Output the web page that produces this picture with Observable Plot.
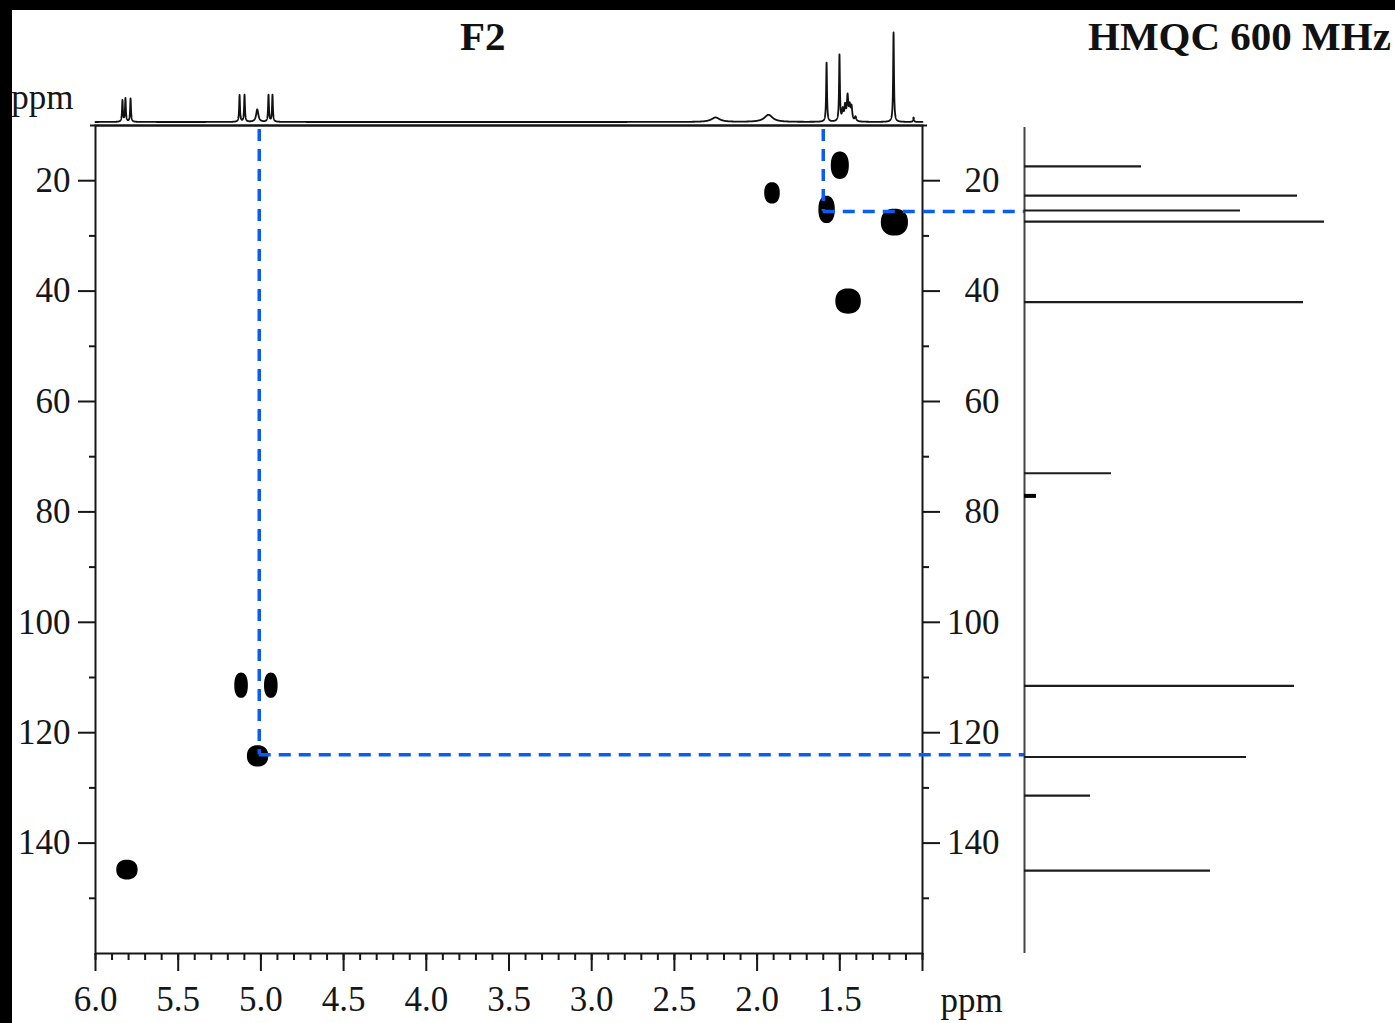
<!DOCTYPE html>
<html><head><meta charset="utf-8">
<script src="https://cdn.jsdelivr.net/npm/d3@7"></script>
<script src="https://cdn.jsdelivr.net/npm/@observablehq/plot@0.6"></script>
<style>
html,body{margin:0;padding:0;background:#000;width:1395px;height:1023px;overflow:hidden}
#wrap{position:absolute;left:12px;top:10px;width:1383px;height:1013px;background:#fff;overflow:hidden}
#wrap svg{position:absolute;left:0;top:0}
.title{position:absolute;font-family:"Liberation Serif",serif;font-weight:bold;font-size:41px;line-height:41px;color:#111;white-space:nowrap}
</style></head><body>
<div id="wrap">
  <div class="title" id="t1" style="left:448px;top:6px;">F2</div>
  <div class="title" id="t2" style="left:1076px;top:6px;">HMQC 600 MHz</div>
</div>
<script>
// ---------------- data ----------------
// 2D HMQC cross peaks (F2 = 1H ppm, F1 = 13C ppm), with line widths in ppm
const crossF2 = [1.50, 1.91, 1.58, 1.17, 1.45, 5.12, 4.94, 5.02, 5.81];
const crossF1 = [17.2, 22.2, 25.2, 27.5, 41.8, 111.4, 111.4, 124.2, 144.8];
const crossWidthF2 = [0.10, 0.085, 0.09, 0.155, 0.145, 0.073, 0.073, 0.12, 0.12];
const crossWidthF1 = [4.7, 3.6, 4.7, 4.6, 4.3, 4.3, 4.3, 3.6, 3.3];

// 13C projection (F1)
const carbonShift = [17.4, 22.7, 25.4, 27.4, 42.0, 73.0, 111.5, 124.4, 131.4, 145.0];
const carbonIntensity = [39, 91, 72, 100, 93, 29, 90, 74, 22, 62];
const solventShift = [77.1];
const solventIntensity = [4];

// 1H spectrum (F2): peak positions, heights, half-widths
const protonShift = [5.837, 5.819, 5.788, 5.129, 5.099, 5.022, 4.954, 4.930, 2.251, 1.931, 1.580, 1.502, 1.482, 1.468, 1.453, 1.440, 1.429, 1.405, 1.175, 1.054];
const protonHeight = [24, 26, 26, 30, 30, 14, 30, 30, 5, 8, 66, 74, 12, 16, 27, 15, 15, 5, 100, 5];
const protonHalfWidth = [0.003, 0.003, 0.003, 0.003, 0.003, 0.008, 0.003, 0.003, 0.03, 0.03, 0.003, 0.003, 0.005, 0.005, 0.005, 0.005, 0.005, 0.005, 0.003, 0.003];

// guide lines (blue dashed)
const guideF2 = [5.01, 1.60];
const guideF1 = [124.0, 25.6];

// axes
const F2_DOMAIN = [6.0, 1.0];
const F1_DOMAIN = [10, 160];
const xMajorTicks = [6.0, 5.5, 5.0, 4.5, 4.0, 3.5, 3.0, 2.5, 2.0, 1.5, 1.0];
const xTickLabels = ["6.0", "5.5", "5.0", "4.5", "4.0", "3.5", "3.0", "2.5", "2.0", "1.5", ""];
const xMinorTicks = d3.range(10, 61).map(i => i / 10);
const yMajorTicks = [20, 40, 60, 80, 100, 120, 140];
const yTickLabels = ["20", "40", "60", "80", "100", "120", "140"];
const yMinorTicks = [30, 50, 70, 90, 110, 130, 150];

// ---------------- layout ----------------
const W = 1383, H = 1013;
const ML = 83, MR = W - 910, MT = 115, MB = H - 943;
const FONT = "'Liberation Serif', 'Times New Roman', serif";
const INK = "#161616";
const BLUE = "#0a5cf6";

// cross-peak outlines
const blobRows = [];
crossF2.forEach((cx, i) => {
  const rx = crossWidthF2[i] / 2, ry = crossWidthF1[i] / 2, n = 2.3;
  for (let k = 0; k < 48; k++) {
    const t = (k / 48) * 2 * Math.PI;
    const c = Math.cos(t), s = Math.sin(t);
    blobRows.push({
      id: i,
      x: cx + rx * Math.sign(c) * Math.pow(Math.abs(c), 2 / n),
      y: crossF1[i] + ry * Math.sign(s) * Math.pow(Math.abs(s), 2 / n)
    });
  }
});

const guides = guideF2.map((f2, i) => ({f2, f1: guideF1[i]}));

const main = Plot.plot({
  width: W, height: H,
  marginLeft: ML, marginRight: MR, marginTop: MT, marginBottom: MB,
  style: {background: "transparent", fontFamily: FONT, fontSize: "35px", color: INK, overflow: "visible"},
  x: {domain: F2_DOMAIN},
  y: {domain: F1_DOMAIN, reverse: true},
  marks: [
    Plot.frame({stroke: INK, strokeWidth: 2}),
    Plot.ruleY([F1_DOMAIN[0]], {stroke: INK, strokeWidth: 2, insetLeft: -5, insetRight: -5}),
    Plot.axisX({anchor: "bottom", ticks: xMajorTicks, tickSize: 18, tickPadding: 15, strokeWidth: 2,
      tickFormat: d => xTickLabels[xMajorTicks.indexOf(d)] ?? "", label: null}),
    Plot.axisX({anchor: "bottom", ticks: xMinorTicks, tickSize: 7, strokeWidth: 2, tickFormat: () => "", label: null}),
    Plot.axisY({anchor: "left", ticks: yMajorTicks, tickSize: 17, tickPadding: 8, strokeWidth: 2,
      tickFormat: d => yTickLabels[yMajorTicks.indexOf(d)], label: null}),
    Plot.axisY({anchor: "left", ticks: yMinorTicks, tickSize: 6, strokeWidth: 2, tickFormat: () => "", label: null}),
    Plot.axisY({anchor: "right", ticks: yMajorTicks, tickSize: 17, tickPadding: 60, textAnchor: "end", strokeWidth: 2,
      tickFormat: d => yTickLabels[yMajorTicks.indexOf(d)], label: null}),
    Plot.axisY({anchor: "right", ticks: yMinorTicks, tickSize: 6, strokeWidth: 2, tickFormat: () => "", label: null}),
    Plot.line(blobRows, {x: "x", y: "y", z: "id", fill: "#000", stroke: "#000", strokeWidth: 1.5, curve: "linear-closed"}),
    Plot.ruleX(guides, {x: "f2", y1: F1_DOMAIN[0], y2: "f1", insetTop: 4, stroke: BLUE, strokeWidth: 3.5, strokeDasharray: "12,8"}),
    Plot.ruleY(guides, {y: "f1", x1: "f2", x2: F2_DOMAIN[1], insetRight: -102, stroke: BLUE, strokeWidth: 3.5, strokeDasharray: "12,8"}),
    Plot.text(["ppm"], {frameAnchor: "top-left", text: d => d, dx: -22, dy: -17, textAnchor: "end", lineAnchor: "bottom", fill: INK}),
    Plot.text(["ppm"], {frameAnchor: "bottom-right", text: d => d, dx: 18, dy: 58, textAnchor: "start", lineAnchor: "bottom", fill: INK})
  ]
});

// 13C projection on the right
const carbon = carbonShift.map((s, i) => ({s, v: carbonIntensity[i]}));
const solvent = solventShift.map((s, i) => ({s, v: solventIntensity[i]}));
const proj = Plot.plot({
  width: W, height: H,
  marginLeft: 1012, marginRight: 71, marginTop: MT, marginBottom: MB,
  style: {background: "transparent", overflow: "visible"},
  x: {domain: [0, 100], axis: null},
  y: {domain: F1_DOMAIN, reverse: true, axis: null},
  marks: [
    Plot.ruleX([0], {stroke: "#444", strokeWidth: 2, insetTop: 2}),
    Plot.ruleY(carbon, {y: "s", x1: 0, x2: "v", stroke: "#1c1c1c", strokeWidth: 2.2}),
    Plot.ruleY(solvent, {y: "s", x1: 0, x2: "v", stroke: "#000", strokeWidth: 4})
  ]
});

// 1H spectrum on top
const grid = d3.range(6.0, 0.9999, -0.0005).concat(protonShift).sort((a, b) => b - a);
const spectrum = grid.map(p => ({
  p,
  v: d3.sum(protonShift, (c, i) => {
    const g = protonHalfWidth[i];
    return protonHeight[i] * g * g / ((p - c) * (p - c) + g * g);
  })
}));
const top1H = Plot.plot({
  width: W, height: H,
  marginLeft: ML, marginRight: MR, marginTop: 22, marginBottom: H - 111.5,
  style: {background: "transparent", overflow: "visible"},
  x: {domain: F2_DOMAIN, axis: null},
  y: {domain: [0, 100], axis: null},
  marks: [
    Plot.line(spectrum, {x: "p", y: "v", stroke: "#111", strokeWidth: 1.8})
  ]
});

const wrap = document.getElementById("wrap");
wrap.prepend(main);
wrap.appendChild(proj);
wrap.appendChild(top1H);
</script>
</body></html>
